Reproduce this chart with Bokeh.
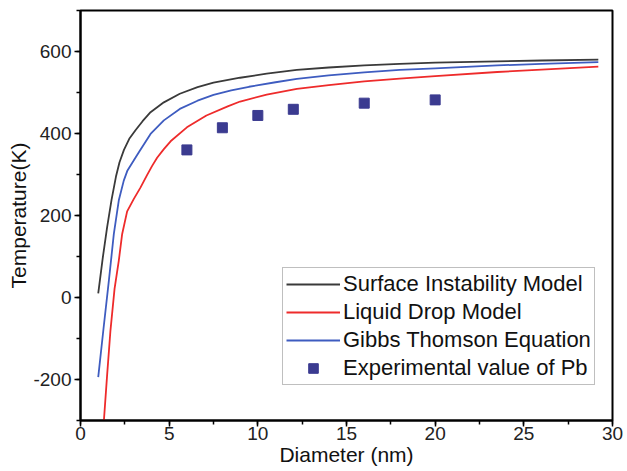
from bokeh.plotting import figure
from bokeh.models import Range1d, SingleIntervalTicker, Legend, LegendItem, CustomJSTickFormatter
from bokeh.embed import file_html
from bokeh.resources import INLINE

# Surface Instability Model
sim_x = [1.0, 1.25, 1.5, 1.75, 2.0, 2.2, 2.45, 2.75, 3.1, 3.5, 3.95, 4.7, 5.6, 6.6, 7.5,
         9.0, 10.5, 12.2, 14, 16, 18, 20, 23.5, 26, 29.2]
sim_y = [10, 95, 171, 238, 295, 330, 360, 387, 408, 430, 452, 476, 497, 513, 524,
         536, 546, 555, 561, 566, 570, 573, 576, 578, 580]

# Liquid Drop Model
ldm_x = [1.32, 1.5, 1.69, 1.92, 2.16, 2.35, 2.63, 3.0, 3.38, 3.76, 4.04, 4.32, 4.7, 5.08,
         6.0, 7.1, 8.3, 9.0, 10.5, 12.2, 14, 16, 18, 20, 23.5, 26, 29.2]
ldm_y = [-300, -190, -80, 21, 90, 155, 210, 240, 268, 299, 321, 341, 362, 381,
         415, 444, 466, 478, 495, 509, 518, 527, 534, 540, 550, 556, 563]

# Gibbs Thomson Equation
gte_x = [1.0, 1.3, 1.6, 1.88, 2.16, 2.44, 2.65, 3.0, 3.3, 3.95, 4.7, 5.6, 6.6, 7.5, 8.5,
         9.5, 11, 12.2, 14, 16, 18, 20, 23.5, 26, 29.2]
gte_y = [-194, -75, 41, 155, 237, 285, 310, 334, 355, 399, 432, 460, 480, 494, 505,
         514, 525, 533, 542, 549, 555, 559, 566, 570, 574]

# Experimental value of Pb
exp_x = [6, 8, 10, 12, 16, 20]
exp_y = [360, 414, 444, 459, 474, 482]

FONT = "Liberation Sans"

p = figure(width=627, height=471, output_backend="svg", toolbar_location=None,
           x_range=Range1d(0, 30), y_range=Range1d(-300, 700),
           min_border_left=80, min_border_right=15, min_border_top=10, min_border_bottom=51)

p.xgrid.visible = False
p.ygrid.visible = False
p.outline_line_color = "black"
p.outline_line_width = 2
p.background_fill_color = "white"
p.border_fill_color = "white"

p.xaxis.ticker = SingleIntervalTicker(interval=5, num_minor_ticks=2)
p.yaxis.ticker = SingleIntervalTicker(interval=200, num_minor_ticks=2)
fmt = "return tick.toFixed(0);"
for ax in (p.xaxis, p.yaxis):
    ax.formatter = CustomJSTickFormatter(code=fmt)
    ax.axis_line_width = 2
    ax.axis_line_color = "black"
    ax.major_tick_in = 0
    ax.major_tick_out = 6
    ax.minor_tick_in = 0
    ax.minor_tick_out = 4
    ax.major_tick_line_width = 1.5
    ax.minor_tick_line_width = 1.5
    ax.major_label_text_font = FONT
    ax.major_label_text_font_size = "19px"
    ax.major_label_text_color = "#222222"
    ax.axis_label_text_font = FONT
    ax.axis_label_text_font_size = "21px"
    ax.axis_label_text_font_style = "normal"
    ax.axis_label_text_color = "#111111"
p.xaxis.axis_label = "Diameter (nm)"
p.yaxis.axis_label = "Temperature(K)"
p.xaxis.axis_label_standoff = 0
p.yaxis.axis_label_standoff = 0
p.xaxis.major_label_standoff = 0
p.yaxis.major_label_standoff = 3

r1 = p.line(sim_x, sim_y, line_color="#3a3a3a", line_width=1.8)
r2 = p.line(ldm_x, ldm_y, line_color="#ee2b2b", line_width=1.8)
r3 = p.line(gte_x, gte_y, line_color="#3e5cc0", line_width=1.8)
r4 = p.scatter(exp_x, exp_y, marker="square", size=10, fill_color="#3b3b90", line_color="#3b3b90")

legend = Legend(items=[
    LegendItem(label="Surface Instability Model", renderers=[r1]),
    LegendItem(label="Liquid Drop Model", renderers=[r2]),
    LegendItem(label="Gibbs Thomson Equation", renderers=[r3]),
    LegendItem(label="Experimental value of Pb", renderers=[r4]),
], location=(202, 35))
legend.label_text_font = FONT
legend.label_text_font_size = "22px"
legend.label_text_color = "#111111"
legend.glyph_width = 54
legend.glyph_height = 24
legend.spacing = 2
legend.padding = 3
legend.margin = 0
legend.label_standoff = 3
legend.border_line_color = "#808080"
legend.border_line_width = 1.5
legend.background_fill_alpha = 1
p.add_layout(legend)

open("out.html", "w").write(file_html(p, INLINE))
